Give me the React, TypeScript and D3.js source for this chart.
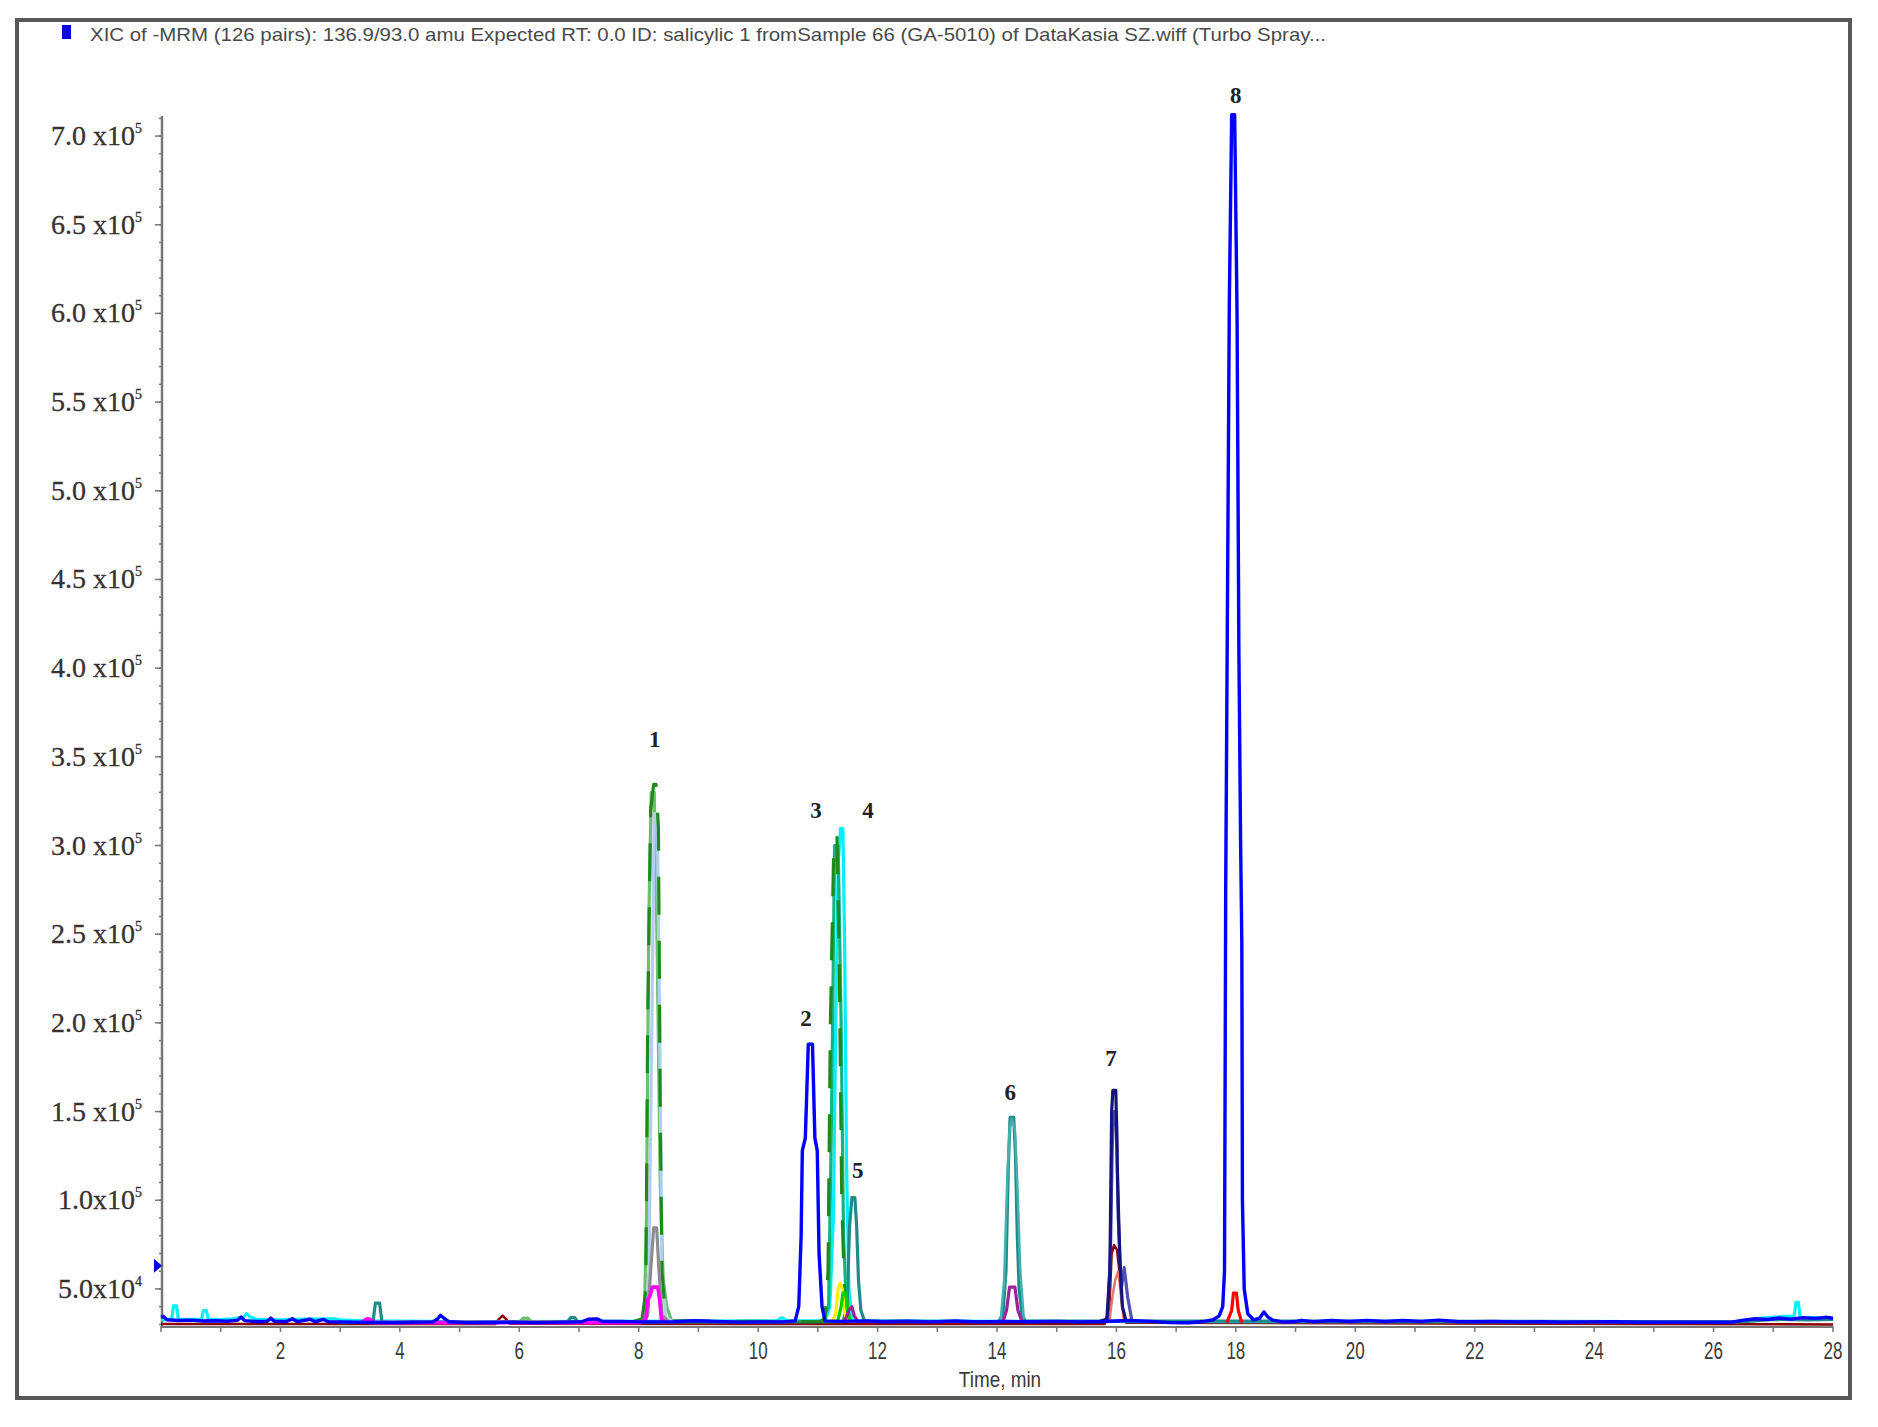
import React from "react";
import * as d3 from "d3";

// ---------------- data ----------------
const TITLE =
  "XIC of -MRM (126 pairs): 136.9/93.0 amu Expected RT: 0.0 ID: salicylic 1 fromSample 66 (GA-5010) of DataKasia SZ.wiff (Turbo Spray...";
const X_LABEL = "Time, min";
const X_TICK_LABELS = [2, 4, 6, 8, 10, 12, 14, 16, 18, 20, 22, 24, 26, 28];
const Y_TICK_VALUES = [700000, 650000, 600000, 550000, 500000, 450000, 400000, 350000, 300000, 250000, 200000, 150000, 100000, 50000];
const Y_TICK_MANTISSA = ["7.0 x10", "6.5 x10", "6.0 x10", "5.5 x10", "5.0 x10", "4.5 x10", "4.0 x10", "3.5 x10", "3.0 x10", "2.5 x10", "2.0 x10", "1.5 x10", "1.0x10", "5.0x10"];
const Y_TICK_EXP = ["5", "5", "5", "5", "5", "5", "5", "5", "5", "5", "5", "5", "5", "4"];
const MARKER_INTENSITY = 63000;

const PEAK_LABELS = ["1", "2", "3", "4", "5", "6", "7", "8"];
const PEAK_LABEL_TIMES = [8.27, 10.8, 10.97, 11.84, 11.67, 14.22, 15.91, 18.0];
const PEAK_LABEL_INTENSITIES = [360000, 203000, 320000, 320000, 117000, 161000, 180000, 723000];

const DARK_RED_TRACE: [number, number][] = [
  [0, 30200], [5.6, 30200], [5.66, 33000], [5.72, 35000], [5.78, 33000], [5.84, 30300],
  [15.8, 30200], [15.88, 38000], [15.92, 70000], [15.96, 74600], [16.01, 72000], [16.05, 60000],
  [16.1, 40000], [16.16, 31000], [28, 30000],
];
const CYAN_TRACE: [number, number][] = [
  [0.0, 32500], [0.18, 33000], [0.21, 40500], [0.26, 40500], [0.29, 33000], [0.5, 32800],
  [0.68, 33000], [0.71, 37800], [0.76, 37800], [0.79, 33000], [1.0, 32700], [1.2, 33200],
  [1.38, 34000], [1.43, 36000], [1.48, 34500], [1.6, 32800], [2.0, 32500], [2.4, 33000],
  [2.9, 33200], [3.0, 32600], [3.4, 32000], [5.0, 31600], [9.2, 31800], [10.3, 32000],
  [10.4, 33800], [10.48, 32200], [11.12, 32000], [11.2, 40000], [11.26, 90000], [11.3, 200000],
  [11.34, 290000], [11.38, 309500], [11.42, 309500], [11.45, 240000], [11.48, 120000], [11.52, 50000],
  [11.57, 34000], [11.65, 32000], [12.0, 31800], [18.0, 31500], [26.4, 31500], [26.8, 33500],
  [27.2, 34500], [27.35, 34500], [27.38, 42500], [27.42, 42500], [27.45, 34000], [27.7, 33800],
  [28.0, 33200],
];
const TEAL_TRACE: [number, number][] = [
  [3.0, 31000], [3.55, 31200], [3.59, 42000], [3.66, 42000], [3.7, 31500], [6.8, 31200],
  [6.86, 33800], [6.93, 33800], [6.98, 31300], [11.42, 31500], [11.49, 40000], [11.53, 85000],
  [11.57, 101500], [11.62, 101500], [11.65, 85000], [11.68, 55000], [11.72, 38000], [11.78, 32000],
  [14.03, 31500], [14.1, 36000], [14.15, 60000], [14.19, 120000], [14.22, 146800], [14.28, 146800],
  [14.31, 125000], [14.34, 80000], [14.37, 50000], [14.42, 35000], [14.48, 32000], [26.5, 31500],
  [27.0, 32800], [27.6, 32500], [28.0, 32800],
];
const LIGHT_TEAL_TRACE: [number, number][] = [
  [14.06, 32000], [14.12, 55000], [14.17, 110000], [14.21, 140000], [14.25, 146000], [14.3, 140000],
  [14.34, 110000], [14.39, 60000], [14.45, 33000],
];
const LIGHT_GREEN_TRACE: [number, number][] = [
  [6.0, 31500], [6.07, 33500], [6.14, 33500], [6.2, 31500], [7.9, 31500], [8.05, 33000],
  [8.1, 42000], [8.13, 90000], [8.17, 260000], [8.21, 330000], [8.26, 330000], [8.31, 240000],
  [8.36, 110000], [8.41, 55000], [8.47, 40000], [8.55, 32000],
];
const LIGHT_BLUE_TRACE: [number, number][] = [
  [8.0, 31500], [8.12, 34000], [8.17, 60000], [8.22, 200000], [8.26, 318000], [8.31, 318000],
  [8.35, 200000], [8.39, 60000], [8.45, 34000], [8.58, 31500],
];
const DARK_GREEN_TRACE: [number, number][] = [
  [7.9, 31500], [8.06, 33000], [8.12, 50000], [8.15, 200000], [8.2, 320000], [8.25, 334500],
  [8.29, 334500], [8.33, 310000], [8.36, 150000], [8.39, 60000], [8.44, 38000], [8.52, 32000],
  [11.02, 31500], [11.12, 33000], [11.17, 60000], [11.21, 200000], [11.27, 305500], [11.32, 305500],
  [11.36, 230000], [11.4, 100000], [11.45, 45000], [11.52, 32500],
];
const SEA_GREEN_TRACE: [number, number][] = [
  [11.08, 32000], [11.18, 40000], [11.23, 150000], [11.28, 300000], [11.34, 300000], [11.39, 200000],
  [11.43, 80000], [11.48, 38000], [11.55, 32000],
];
const GRAY_TRACE: [number, number][] = [
  [3.38, 31000], [3.45, 33000], [3.5, 31000], [8.05, 31500], [8.15, 35000], [8.2, 60000],
  [8.25, 84500], [8.3, 84500], [8.34, 60000], [8.39, 35000], [8.5, 31500],
];
const MAGENTA_TRACE: [number, number][] = [
  [3.35, 31000], [3.44, 33000], [3.5, 33000], [3.56, 31000], [8.03, 31000], [8.12, 33000],
  [8.15, 44000], [8.19, 46000], [8.23, 51000], [8.32, 51000], [8.35, 44000], [8.38, 33000],
  [8.46, 31000],
];
const YELLOW_TRACE: [number, number][] = [
  [11.24, 31500], [11.3, 36000], [11.34, 50000], [11.37, 53000], [11.41, 50000], [11.44, 38000],
  [11.49, 31500],
];
const GREEN_TRACE: [number, number][] = [
  [11.33, 31500], [11.39, 40000], [11.42, 47600], [11.47, 47600], [11.5, 38000], [11.55, 31500],
];
const PURPLE_TRACE: [number, number][] = [
  [11.45, 31500], [11.52, 38000], [11.57, 40000], [11.61, 35000], [11.67, 31500], [14.1, 31500],
  [14.16, 38000], [14.21, 51000], [14.3, 51000], [14.35, 38000], [14.42, 31500],
];
const SALMON_TRACE: [number, number][] = [
  [15.88, 31000], [15.93, 45000], [15.98, 55000], [16.03, 60000], [16.08, 45000], [16.13, 31000],
];
const MID_BLUE_TRACE: [number, number][] = [
  [15.85, 31500], [15.9, 70000], [15.93, 130000], [15.96, 150000], [16.0, 150000], [16.03, 90000],
  [16.08, 50000], [16.13, 62000], [16.19, 45000], [16.26, 32000],
];
const NAVY_TRACE: [number, number][] = [
  [15.7, 31500], [15.84, 33000], [15.89, 60000], [15.92, 150000], [15.94, 162000], [15.99, 162000],
  [16.02, 110000], [16.06, 65000], [16.1, 40000], [16.16, 32000],
];
const RED_TRACE: [number, number][] = [
  [17.85, 31000], [17.93, 38000], [17.96, 47600], [18.01, 47600], [18.04, 38000], [18.1, 31000],
];
const BLUE_TRACE: [number, number][] = [
  [0.0, 34000], [0.04, 34500], [0.1, 32600], [0.3, 32200], [0.5, 32400], [0.7, 31900], [0.9, 32100],
  [1.1, 31800], [1.28, 32300], [1.34, 34200], [1.4, 32100], [1.6, 31600], [1.78, 31800], [1.84, 33600],
  [1.9, 31700], [2.1, 31600], [2.2, 33200], [2.28, 31600], [2.5, 32900], [2.58, 31500], [2.72, 32800],
  [2.8, 31500], [3.0, 31400], [3.3, 31200], [3.6, 31100], [3.9, 31000], [4.2, 31200], [4.55, 31400],
  [4.63, 33000], [4.68, 35200], [4.75, 33200], [4.82, 31500], [5.1, 31000], [5.5, 31100], [5.9, 31200],
  [6.3, 31000], [6.7, 31300], [7.05, 31500], [7.15, 32900], [7.3, 33100], [7.4, 31600], [7.7, 31700],
  [8.0, 31400], [8.6, 31500], [8.95, 32100], [9.3, 31600], [9.7, 31300], [10.1, 31400], [10.45, 31500],
  [10.62, 32000], [10.68, 40000], [10.72, 80000], [10.74, 128000], [10.79, 135000], [10.84, 188000],
  [10.91, 188000], [10.95, 135000], [10.99, 128000], [11.02, 70000], [11.07, 40000], [11.12, 32000],
  [11.4, 31700], [11.8, 32000], [12.1, 31500], [12.5, 31800], [12.9, 31400], [13.3, 31900], [13.7, 31400],
  [14.1, 31600], [14.6, 31500], [15.0, 31700], [15.4, 31400], [15.8, 31600], [16.2, 32200], [16.6, 31700],
  [16.9, 31000], [17.2, 30900], [17.45, 31600], [17.62, 32600], [17.72, 34800], [17.78, 40000],
  [17.81, 60000], [17.83, 275000], [17.89, 604000], [17.93, 712000], [17.98, 712000], [18.02, 600000],
  [18.05, 413000], [18.08, 300000], [18.1, 245000], [18.11, 100000], [18.14, 50000], [18.2, 36000],
  [18.3, 32500], [18.4, 33600], [18.47, 37000], [18.54, 34000], [18.62, 32400], [18.8, 31300], [19.0, 31600],
  [19.1, 32300], [19.3, 31500], [19.6, 32200], [19.9, 31600], [20.2, 32300], [20.5, 31600], [20.8, 32200],
  [21.1, 31700], [21.4, 32400], [21.7, 31600], [22.0, 31500], [22.3, 31700], [22.7, 31400], [23.1, 31500],
  [23.5, 31300], [23.9, 31400], [24.3, 31500], [24.8, 31200], [25.3, 31300], [25.8, 31200], [26.3, 31200],
  [26.5, 32400], [26.7, 33200], [26.9, 32800], [27.1, 33600], [27.3, 33000], [27.5, 33800], [27.7, 33400],
  [27.9, 34000], [28.0, 33500],
];

// draw order and style (separate from the values)
const SERIES = [
  { data: DARK_RED_TRACE, color: "#8b0000", width: 2.5, dash: "" },
  { data: CYAN_TRACE, color: "#00f0ff", width: 3.2, dash: "" },
  { data: TEAL_TRACE, color: "#1f8a8a", width: 3.2, dash: "" },
  { data: LIGHT_TEAL_TRACE, color: "#45b0b0", width: 2.5, dash: "" },
  { data: LIGHT_GREEN_TRACE, color: "#6cbf6c", width: 3.2, dash: "" },
  { data: LIGHT_BLUE_TRACE, color: "#b0cff0", width: 3.2, dash: "" },
  { data: SEA_GREEN_TRACE, color: "#14b383", width: 3.2, dash: "" },
  { data: DARK_GREEN_TRACE, color: "#1e8a1e", width: 3.2, dash: "38 26" },
  { data: GRAY_TRACE, color: "#8c8c8c", width: 3.2, dash: "" },
  { data: MAGENTA_TRACE, color: "#ff00ff", width: 3.6, dash: "" },
  { data: YELLOW_TRACE, color: "#ffee00", width: 3.2, dash: "" },
  { data: GREEN_TRACE, color: "#00d000", width: 3.2, dash: "" },
  { data: PURPLE_TRACE, color: "#a020a0", width: 3.2, dash: "" },
  { data: SALMON_TRACE, color: "#e07a6a", width: 2.5, dash: "" },
  { data: MID_BLUE_TRACE, color: "#5050b8", width: 3.2, dash: "" },
  { data: NAVY_TRACE, color: "#14147e", width: 3.2, dash: "" },
  { data: RED_TRACE, color: "#ff0000", width: 3.2, dash: "" },
  { data: BLUE_TRACE, color: "#0000ff", width: 3.4, dash: "" },
];

// ---------------- layout ----------------
const W = 1878;
const H = 1427;
const X0 = 161;
const X1 = 1833;
const Y_BOTTOM = 1326;
const Y_TOP = 116;
const Y_MIN = 29100;
const Y_MAX = 711300;

export default function App() {
  const x = d3.scaleLinear().domain([0, 28]).range([X0, X1]);
  const y = d3.scaleLinear().domain([Y_MIN, Y_MAX]).range([Y_BOTTOM, Y_TOP]);
  const line = d3
    .line<[number, number]>()
    .x((d) => x(d[0]))
    .y((d) => y(d[1]));

  const xMinor = d3.range(0, 29, 1);
  const yMinor = d3.range(30000, 711000, 10000);
  const yMajor = d3.range(50000, 711000, 50000);
  const sans = "'Liberation Sans', Arial, sans-serif";
  const my = y(MARKER_INTENSITY);

  return (
    <svg
      width={W}
      height={H}
      viewBox={`0 0 ${W} ${H}`}
      style={{ position: "absolute", left: 0, top: 0, display: "block", background: "#fff" }}
    >
      <rect x={0} y={0} width={W} height={H} fill="#fff" />
      {/* outer frame */}
      <rect x={17} y={20} width={1833} height={1378} fill="none" stroke="#585858" strokeWidth={4} />

      {/* title */}
      <rect x={62} y={25} width={9} height={14} fill="#0000e0" />
      <text
        x={90}
        y={41}
        fontFamily={sans}
        fontSize={19}
        fill="#4a4a4a"
        textLength={1236}
        lengthAdjust="spacingAndGlyphs"
      >
        {TITLE}
      </text>

      {/* y axis */}
      <line x1={X0 + 1} x2={X0 + 1} y1={Y_TOP} y2={Y_BOTTOM} stroke="#777" strokeWidth={2.5} />
      {yMinor.map((v) => (
        <line key={"ym" + v} x1={X0 - 2} x2={X0 + 1} y1={y(v)} y2={y(v)} stroke="#777" strokeWidth={1.5} />
      ))}
      {yMajor.map((v) => (
        <line key={"yM" + v} x1={X0 - 6} x2={X0 + 1} y1={y(v)} y2={y(v)} stroke="#777" strokeWidth={1.5} />
      ))}
      {Y_TICK_VALUES.map((v, i) => (
        <text
          key={"yl" + v}
          x={142}
          y={y(v) + 9}
          textAnchor="end"
          fontFamily="'Liberation Serif', 'Times New Roman', serif"
          fontSize={28}
          fill="#3a3030"
          stroke="#3a3030"
          strokeWidth={0.3}
        >
          {Y_TICK_MANTISSA[i]}
          <tspan dy={-12} fontSize={14}>
            {Y_TICK_EXP[i]}
          </tspan>
        </text>
      ))}
      {/* marker on y axis */}
      <path d={`M${X0 - 7},${my - 7} L${X0 + 1},${my} L${X0 - 7},${my + 7} Z`} fill="#0000e0" />

      {/* x axis */}
      <line x1={X0} x2={X1} y1={Y_BOTTOM + 1} y2={Y_BOTTOM + 1} stroke="#777" strokeWidth={2} />
      {xMinor.map((t) => (
        <line key={"xt" + t} x1={x(t)} x2={x(t)} y1={Y_BOTTOM} y2={Y_BOTTOM + 6} stroke="#777" strokeWidth={1.5} />
      ))}
      {X_TICK_LABELS.map((t) => (
        <text
          key={"xl" + t}
          transform={`translate(${x(t)},1359) scale(0.74,1)`}
          textAnchor="middle"
          fontFamily={sans}
          fontSize={23}
          fill="#3a3a3a"
        >
          {t}
        </text>
      ))}
      <text
        transform="translate(1000,1387) scale(0.86,1)"
        textAnchor="middle"
        fontFamily={sans}
        fontSize={22}
        fill="#3a3a3a"
      >
        {X_LABEL}
      </text>

      {/* traces */}
      {SERIES.map((s, i) => (
        <path
          key={"s" + i}
          d={line(s.data) || ""}
          fill="none"
          stroke={s.color}
          strokeWidth={s.width}
          strokeDasharray={s.dash || undefined}
          strokeLinejoin="round"
        />
      ))}

      {/* peak labels */}
      {PEAK_LABELS.map((p, i) => (
        <text
          key={"pl" + p}
          x={x(PEAK_LABEL_TIMES[i])}
          y={y(PEAK_LABEL_INTENSITIES[i]) + 8}
          textAnchor="middle"
          fontFamily="'Liberation Serif', 'Times New Roman', serif"
          fontWeight="bold"
          fontSize={23}
          fill="#222"
        >
          {p}
        </text>
      ))}
    </svg>
  );
}
